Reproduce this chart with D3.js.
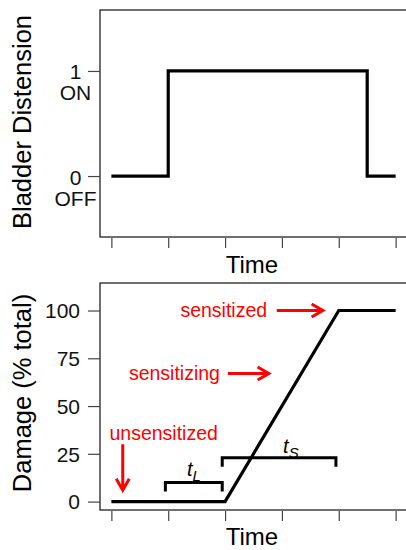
<!DOCTYPE html>
<html>
<head>
<meta charset="utf-8">
<script src="https://cdn.jsdelivr.net/npm/d3@7"></script>
<style>
  body { margin: 0; background: #fff; }
  svg { display: block; font-family: "Liberation Sans", Arial, sans-serif; }
</style>
</head>
<body>
<div id="chart"></div>
<script>
// time axis (both panels)
const timeTicks = [0, 1, 2, 3, 4, 5];

// top panel: bladder distension step
const distT = [0, 1, 1, 4.5, 4.5, 5];
const distV = [0, 0, 1, 1, 0, 0];
const distTicks = [0, 1];
const distTickLabels = [["0", "OFF"], ["1", "ON"]];

// bottom panel: damage
const damageT = [0, 2, 4, 5];
const damageV = [0, 0, 100, 100];
const damageTicks = [0, 25, 50, 75, 100];

// red annotations: label, label anchor (t, v), arrow from/to
const notes = [
    { label: "sensitized", at: [2.74, 100], anchor: "end", from: [2.91, 100], to: [3.72, 100] },
    { label: "sensitizing", at: [1.91, 67], anchor: "end", from: [2.05, 67], to: [2.77, 67] },
    { label: "unsensitized", at: [0.92, 36], anchor: "middle", from: [0.2, 30], to: [0.2, 6] }
];

// brackets: sub label, t range, level, label position
const brackets = [
    { sub: "L", t: [0.95, 1.95], v: 10, text: [1.33, 13.4] },
    { sub: "S", t: [1.95, 3.95], v: 23, text: [3.02, 25.4] }
];

const width = 406, height = 550;
const svg = d3.select("#chart").append("svg")
    .attr("width", width)
    .attr("height", height);

const x = d3.scaleLinear().domain([-0.2, 5.2]).range([100, 407]);
const yTop = d3.scaleLinear().domain([-0.58, 1.58]).range([237, 10]);
const yBot = d3.scaleLinear().domain([-4.4, 114.4]).range([510, 283]);

function frame(y) {
    const [b, t] = y.range();
    svg.append("rect")
        .attr("x", 100).attr("y", t)
        .attr("width", 320).attr("height", b - t)
        .attr("fill", "none")
        .attr("stroke", "#222")
        .attr("stroke-width", 1.3);
}

function timeAxis(y0, labelY) {
    const g = svg.append("g")
        .attr("transform", `translate(0,${y0})`)
        .call(d3.axisBottom(x).tickValues(timeTicks).tickSize(10).tickSizeOuter(0).tickFormat(""));
    g.select(".domain").remove();
    g.selectAll(".tick line").attr("stroke", "#444").attr("stroke-width", 1.2);
    svg.append("text")
        .attr("x", 252).attr("y", labelY)
        .attr("text-anchor", "middle")
        .attr("font-size", 24)
        .text("Time");
}

function yTitle(label, cy) {
    svg.append("text")
        .attr("transform", `translate(31,${cy}) rotate(-90)`)
        .attr("text-anchor", "middle")
        .attr("font-size", 25.5)
        .text(label);
}

// ---- top panel ----
frame(yTop);
timeAxis(238, 273);

const topAxis = svg.append("g")
    .attr("transform", "translate(100,0)")
    .call(d3.axisLeft(yTop).tickValues(distTicks).tickSize(12).tickSizeOuter(0).tickFormat(""));
topAxis.select(".domain").remove();
topAxis.selectAll(".tick line").attr("stroke", "#444").attr("stroke-width", 1.2);
topAxis.selectAll(".tick").append("text")
    .attr("x", -24.5)
    .attr("text-anchor", "middle")
    .attr("font-size", 21)
    .attr("fill", "#111")
    .selectAll("tspan")
    .data((d, i) => distTickLabels[i])
    .enter()
    .append("tspan")
    .attr("x", -24.5)
    .attr("y", (d, i) => i === 0 ? 8 : 29)
    .text(d => d);

yTitle("Bladder Distension", 122);

svg.append("path")
    .datum(distT.map((t, i) => [t, distV[i]]))
    .attr("fill", "none")
    .attr("stroke", "#000")
    .attr("stroke-width", 3.2)
    .attr("d", d3.line().x(d => x(d[0])).y(d => yTop(d[1])));

// ---- bottom panel ----
frame(yBot);
timeAxis(511, 545);

const botAxis = svg.append("g")
    .attr("transform", "translate(100,0)")
    .call(d3.axisLeft(yBot).tickValues(damageTicks).tickSize(12).tickPadding(8).tickSizeOuter(0));
botAxis.select(".domain").remove();
botAxis.selectAll(".tick line").attr("stroke", "#444").attr("stroke-width", 1.2);
botAxis.selectAll(".tick text")
    .attr("font-family", null)
    .attr("font-size", 21)
    .attr("fill", "#111")
    .attr("dy", "0.35em");

yTitle("Damage (% total)", 393);

svg.append("path")
    .datum(damageT.map((t, i) => [t, damageV[i]]))
    .attr("fill", "none")
    .attr("stroke", "#000")
    .attr("stroke-width", 3.2)
    .attr("stroke-linejoin", "miter")
    .attr("d", d3.line().x(d => x(d[0])).y(d => yBot(d[1])));

// brackets
brackets.forEach(b => {
    const x0 = x(b.t[0]), x1 = x(b.t[1]);
    const yv = yBot(b.v), yc = yv + 9;
    svg.append("path")
        .attr("d", `M${x0},${yc}V${yv}H${x1}V${yc}`)
        .attr("fill", "none")
        .attr("stroke", "#000")
        .attr("stroke-width", 3);
    const txt = svg.append("text")
        .attr("x", x(b.text[0]))
        .attr("y", yBot(b.text[1]))
        .attr("font-style", "italic");
    txt.append("tspan").attr("font-size", 20).text("t");
    txt.append("tspan").attr("font-size", 15).attr("dy", 5).text(b.sub);
});

// annotations
notes.forEach(n => {
    svg.append("text")
        .attr("x", x(n.at[0]))
        .attr("y", yBot(n.at[1]))
        .attr("dy", "0.35em")
        .attr("text-anchor", n.anchor)
        .attr("font-size", 19.5)
        .attr("fill", "#ff0000")
        .text(n.label);

    const x0 = x(n.from[0]), y0 = yBot(n.from[1]);
    const x1 = x(n.to[0]), y1 = yBot(n.to[1]);
    const a = Math.atan2(y1 - y0, x1 - x0);
    const len = 13, spread = Math.PI / 6;
    const h1 = [x1 - len * Math.cos(a - spread), y1 - len * Math.sin(a - spread)];
    const h2 = [x1 - len * Math.cos(a + spread), y1 - len * Math.sin(a + spread)];
    svg.append("path")
        .attr("d", `M${x0},${y0}L${x1},${y1}M${h1[0]},${h1[1]}L${x1},${y1}L${h2[0]},${h2[1]}`)
        .attr("fill", "none")
        .attr("stroke", "#ff0000")
        .attr("stroke-width", 3)
        .attr("stroke-linejoin", "miter");
});
</script>
</body>
</html>
